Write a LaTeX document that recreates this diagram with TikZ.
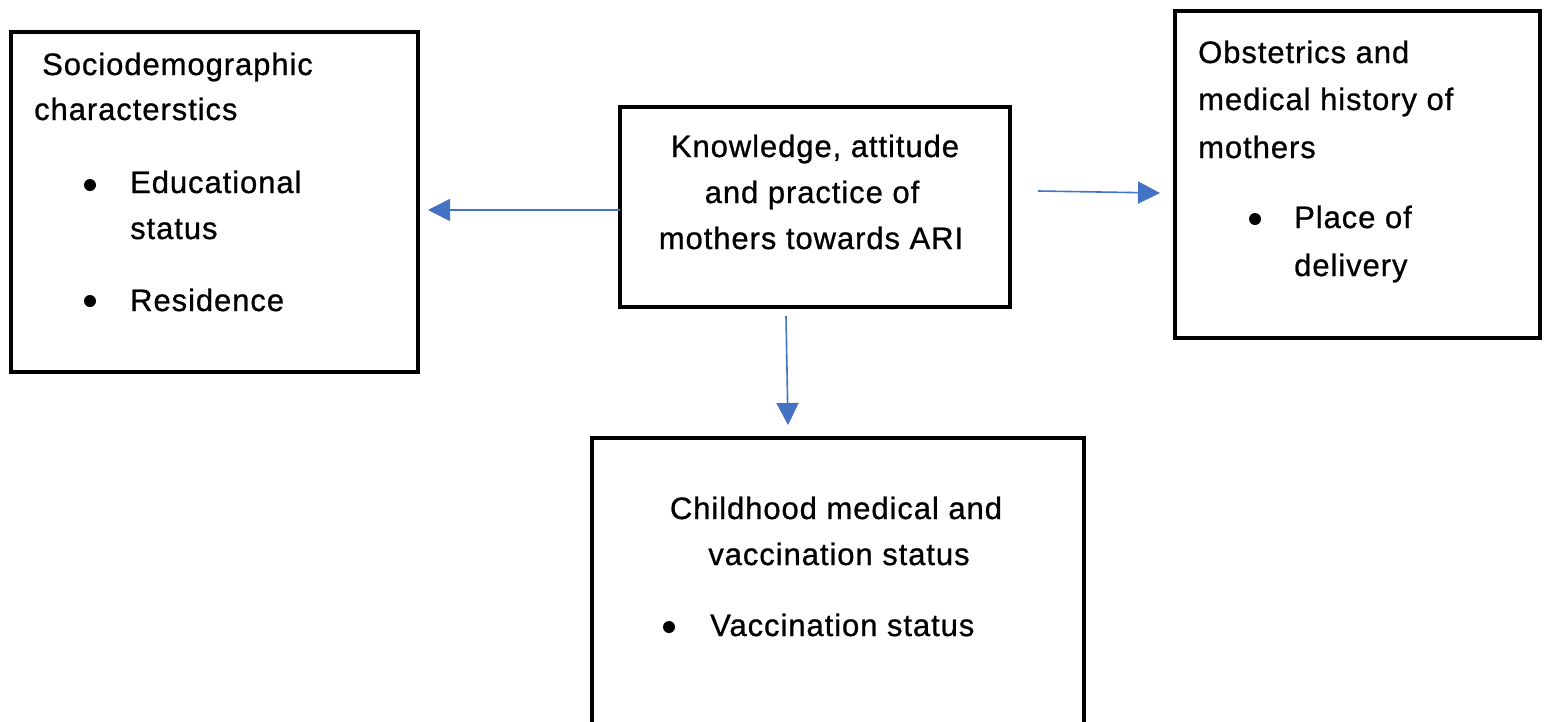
\documentclass[tikz,border=0pt]{standalone}
\usepackage{fontspec}
\setmainfont{Liberation Sans}[LetterSpace=3,FakeBold=0.8]
\usetikzlibrary{arrows.meta}
\definecolor{arrowblue}{HTML}{4472C4}
\tikzset{
  box/.style={draw=black, line width=4pt},
  txt/.style={anchor=base west, inner sep=0pt, font=\fontsize{31}{36}\selectfont},
  ctxt/.style={anchor=base, inner sep=0pt, font=\fontsize{31}{36}\selectfont},
  bul/.style={circle, fill=black, inner sep=0pt, minimum size=12pt},
  conn/.style={draw=arrowblue, line width=1.6pt, -{Triangle[length=22pt,width=22pt]}}
}
\begin{document}
\begin{tikzpicture}[x=1pt,y=-1pt]
\useasboundingbox (0,0) rectangle (1549,721);
\clip (0,0) rectangle (1549,721);
\fill[white] (0,0) rectangle (1549,721);
% boxes
\draw[box] (11,32) rectangle (418,372);
\draw[box] (620,107) rectangle (1010,307);
\draw[box] (1175,11) rectangle (1540,338);
\draw[box] (592,438) rectangle (1084,760);
% left box text
\node[txt] (s1) at (42,75) {Sociodemographic};
\node[txt] (s2) at (34,120) {characterstics};
\node[bul] (b1) at (90,185) {};
\node[txt] (s3) at (130,193) {Educational};
\node[txt] (s4) at (130,239) {status};
\node[bul] (b2) at (90,301) {};
\node[txt] (s5) at (130,311) {Residence};
% center box text
\node[ctxt] (k1) at (815,157) {Knowledge, attitude};
\node[ctxt] (k2) at (812,203) {and practice of};
\node[ctxt] (k3) at (811,249) {mothers towards ARI};
% right box text
\node[txt] (o1) at (1198,63) {Obstetrics and};
\node[txt] (o2) at (1198,110) {medical history of};
\node[txt] (o3) at (1198,158) {mothers};
\node[bul] (b3) at (1255,219) {};
\node[txt] (o4) at (1294,228) {Place of};
\node[txt] (o5) at (1294,276) {delivery};
% bottom box text
\node[ctxt] (c1) at (836,519) {Childhood medical and};
\node[ctxt] (c2) at (839,565) {vaccination status};
\node[bul] (b4) at (669,627) {};
\node[txt] (c3) at (710,636) {Vaccination status};
% connector endpoints
\coordinate (aL0) at (620,210);
\coordinate (aL1) at (428,210);
\coordinate (aR0) at (1038,191);
\coordinate (aR1) at (1160,193);
\coordinate (aD0) at (786,316);
\coordinate (aD1) at (788,425);
\draw[conn] (aL0) -- (aL1);
\draw[conn] (aR0) -- (aR1);
\draw[conn] (aD0) -- (aD1);
\end{tikzpicture}
\end{document}
